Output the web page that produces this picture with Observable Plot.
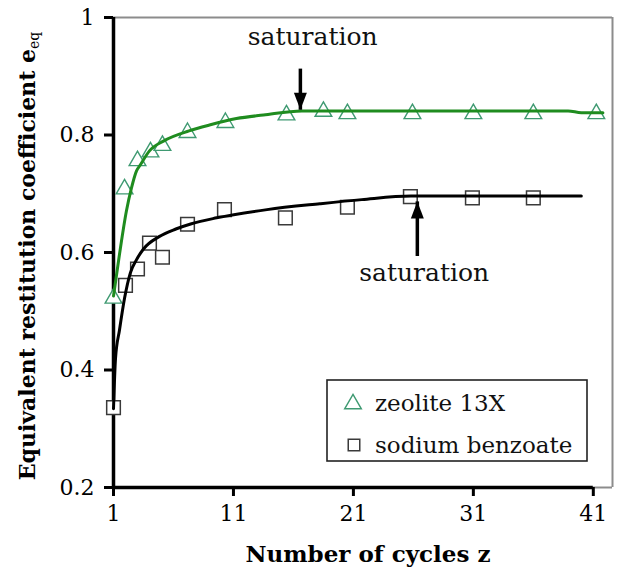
<!DOCTYPE html>
<html>
<head>
<meta charset="utf-8">
<script src="https://cdn.jsdelivr.net/npm/d3@7"></script>
<script src="https://cdn.jsdelivr.net/npm/@observablehq/plot@0.6"></script>
<style>
  html, body { margin: 0; padding: 0; background: #fff; }
  #chart svg { display: block; }
</style>
</head>
<body>
<div id="chart"></div>
<script>
// Measured restitution coefficient e_eq against number of cycles z
const zeoliteZ = [1, 1.92, 3, 4.08, 5.08, 7.17, 10.33, 15.42, 18.5, 20.5, 25.92, 31, 36, 41.25];
const zeoliteE = [0.522, 0.708, 0.756, 0.771, 0.782, 0.804, 0.821, 0.834, 0.840, 0.836, 0.836, 0.836, 0.836, 0.836];
const benzoateZ = [1, 2, 3, 4, 5.08, 7.17, 10.25, 15.33, 20.5, 25.75, 30.92, 36];
const benzoateE = [0.336, 0.544, 0.572, 0.616, 0.592, 0.648, 0.673, 0.659, 0.677, 0.695, 0.693, 0.693];

// Fitted trend curves
const zeoliteFitZ = [1, 1.5, 2.08, 2.5, 2.92, 3.2, 4, 5.2, 7.3, 9, 11.25, 13.5, 16.7, 25, 38.9, 40, 41.8];
const zeoliteFitE = [0.526, 0.597, 0.671, 0.710, 0.739, 0.748, 0.773, 0.790, 0.807, 0.817, 0.828, 0.834, 0.841, 0.841, 0.841, 0.838, 0.838];
const benzoateFitZ = [1, 1.17, 1.5, 1.92, 2.4, 2.9, 3.5, 4.8, 6.2, 7.5, 9.6, 13.8, 18.2, 21.7, 25.8, 40];
const benzoateFitE = [0.334, 0.42, 0.468, 0.522, 0.565, 0.587, 0.606, 0.627, 0.640, 0.649, 0.659, 0.673, 0.683, 0.690, 0.696, 0.696];

// Axis ticks and plot frame extent
const xTicks = [1, 11, 21, 31, 41];
const yTicks = [0.2, 0.4, 0.6, 0.8, 1];
const xDomain = [1, 42.6];
const yDomain = [0.2, 1];

// Saturation annotations: label position, arrow tail and arrow tip
const satLabelZ = [17.6, 26.9];
const satLabelE = [0.966, 0.565];
const satArrowZ = [16.58, 26.33];
const satTailE = [0.913, 0.594];
const satTipE = [0.843, 0.687];
const satText = "saturation";

const legendLabels = ["zeolite 13X", "sodium benzoate"];

const green = "#1f8c1f";
const triColor = "#3f9a72";
const sqColor = "#3a3a3a";
const serif = "'DejaVu Serif', serif";

const zeolite = zeoliteZ.map((z, i) => ({z, e: zeoliteE[i]}));
const benzoate = benzoateZ.map((z, i) => ({z, e: benzoateE[i]}));
const zeoliteFit = zeoliteFitZ.map((z, i) => ({z, e: zeoliteFitE[i]}));
const benzoateFit = benzoateFitZ.map((z, i) => ({z, e: benzoateFitE[i]}));
const arrows = satArrowZ.map((z, i) => ({z, tail: satTailE[i], tip: satTipE[i], down: satTipE[i] < satTailE[i]}));
const labels = satLabelZ.map((z, i) => ({z, e: satLabelE[i], text: satText}));

// Filled arrowheads with the tip at the origin
const headDown = {draw(ctx) { ctx.moveTo(0, 0); ctx.lineTo(-6.5, -17); ctx.lineTo(6.5, -17); ctx.closePath(); }};
const headUp = {draw(ctx) { ctx.moveTo(0, 0); ctx.lineTo(-6.5, 17); ctx.lineTo(6.5, 17); ctx.closePath(); }};

const fmt = d => `${d}`;

const chart = Plot.plot({
  width: 632,
  height: 576,
  marginLeft: 113,
  marginRight: 20,
  marginTop: 17,
  marginBottom: 89,
  x: {domain: xDomain},
  y: {domain: yDomain},
  style: {fontSize: "22px", color: "#000", background: "#fff"},
  marks: [
    // grey plot-area border on top and right
    Plot.ruleY([yDomain[1]], {x1: xDomain[0], x2: xDomain[1], stroke: "#8c8c8c", strokeWidth: 2}),
    Plot.ruleX([xDomain[1]], {y1: yDomain[0], y2: yDomain[1], stroke: "#8c8c8c", strokeWidth: 2}),
    Plot.ruleY([yDomain[0]], {x1: xTicks[xTicks.length - 1], x2: xDomain[1], stroke: "#8c8c8c", strokeWidth: 2}),
    Plot.axisX(xTicks, {tickSize: 9, tickPadding: 9, strokeWidth: 3, label: null, fontSize: 22, tickFormat: fmt}),
    Plot.axisY(yTicks, {tickSize: 9, tickPadding: 10, strokeWidth: 3, label: null, fontSize: 22, tickFormat: fmt}),
    // black axis lines
    Plot.ruleX([xDomain[0]], {stroke: "#000", strokeWidth: 3.5}),
    Plot.ruleY([yDomain[0]], {x1: xDomain[0], x2: xTicks[xTicks.length - 1], stroke: "#000", strokeWidth: 3.5}),
    // data points
    Plot.dot(benzoate, {x: "z", y: "e", symbol: "square", r: 7.7, stroke: sqColor, strokeWidth: 1.5, fill: "#fff"}),
    Plot.dot(zeolite, {x: "z", y: "e", symbol: "triangle", r: 6.2, stroke: triColor, strokeWidth: 1.4, fill: "#fff"}),
    // trend curves
    Plot.line(benzoateFit, {x: "z", y: "e", stroke: "#000", strokeWidth: 3, curve: "monotone-x"}),
    Plot.line(zeoliteFit, {x: "z", y: "e", stroke: green, strokeWidth: 3, curve: "monotone-x"}),
    // saturation arrows
    Plot.link(arrows, {x1: "z", x2: "z", y1: "tail", y2: "tip", stroke: "#000", strokeWidth: 3.5}),
    Plot.dot(arrows.filter(d => d.down), {x: "z", y: "tip", symbol: headDown, fill: "#000", stroke: "none"}),
    Plot.dot(arrows.filter(d => !d.down), {x: "z", y: "tip", symbol: headUp, fill: "#000", stroke: "none"}),
    Plot.text(labels, {x: "z", y: "e", text: "text", fontSize: 25, fill: "#111"})
  ]
});

const svg = d3.select(chart);

// y-axis title with subscript
const yTitle = svg.append("text")
  .attr("transform", "translate(35,256) rotate(-90)")
  .attr("text-anchor", "middle")
  .attr("font-weight", "bold")
  .attr("font-size", 22)
  .attr("fill", "#000");
yTitle.append("tspan").text("Equivalent restitution coefficient e");
yTitle.append("tspan").attr("font-size", 14).attr("font-weight", "normal").attr("dy", 4).text("eq");

// x-axis title
svg.append("text")
  .attr("x", 368).attr("y", 562)
  .attr("text-anchor", "middle")
  .attr("font-weight", "bold")
  .attr("font-size", 23)
  .attr("fill", "#000")
  .text("Number of cycles z");

// legend
const lg = svg.append("g").attr("font-size", 23).attr("text-anchor", "start");
lg.append("rect").attr("x", 327).attr("y", 380).attr("width", 260).attr("height", 81)
  .attr("fill", "#fff").attr("stroke", "#222").attr("stroke-width", 1.6);
lg.append("path").attr("transform", "translate(353,404)")
  .attr("d", d3.symbol(d3.symbolTriangle, Math.PI * 6.2 * 6.2)())
  .attr("fill", "none").attr("stroke", triColor).attr("stroke-width", 1.4);
lg.append("path").attr("transform", "translate(354,445)")
  .attr("d", d3.symbol(d3.symbolSquare, Math.PI * 6.5 * 6.5)())
  .attr("fill", "none").attr("stroke", sqColor).attr("stroke-width", 1.5);
lg.append("text").attr("x", 375).attr("y", 411).attr("fill", "#111").text(legendLabels[0]);
lg.append("text").attr("x", 375).attr("y", 453).attr("fill", "#111").text(legendLabels[1]);

// serif face on every label, set inline
svg.selectAll("text").style("font-family", serif);

document.getElementById("chart").appendChild(chart);
</script>
</body>
</html>
